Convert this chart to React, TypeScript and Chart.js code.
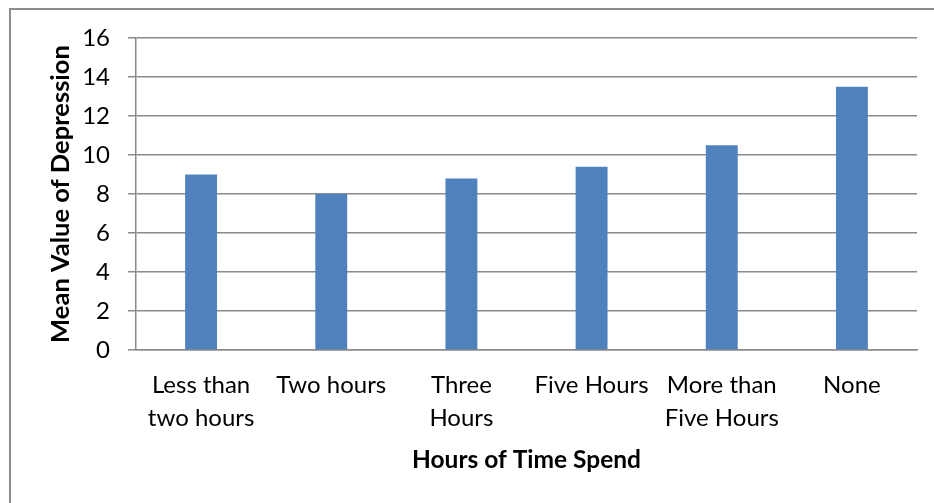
import React, { useEffect, useRef } from "react";
import { Chart, registerables } from "chart.js";

Chart.register(...registerables);

// Categories (multi-line labels are arrays of lines)
const categories: (string | string[])[] = [
  ["Less than", "two hours"],
  "Two hours",
  ["Three", "Hours"],
  "Five Hours",
  ["More than", "Five Hours"],
  "None",
];

// Mean depression score per category
const meanDepression: number[] = [9.0, 8.0, 8.8, 9.4, 10.5, 13.5];

// Y axis range
const yMin = 0;
const yMax = 16;
const yStep = 2;

const xTitle = "Hours of Time Spend";
const yTitle = "Mean Value of Depression";

const FONT = "Lato, 'Open Sans', sans-serif";
const GRID = "#8a8a8a";

// Grey frame along the top and left edges
const framePlugin = {
  id: "frame",
  beforeDraw(chart: Chart) {
    const { ctx, width, height } = chart;
    ctx.save();
    ctx.fillStyle = "#ffffff";
    ctx.fillRect(0, 0, width, height);
    ctx.strokeStyle = "#8c8c8c";
    ctx.lineWidth = 2;
    ctx.beginPath();
    ctx.moveTo(10, height);
    ctx.lineTo(10, 9);
    ctx.lineTo(width, 9);
    ctx.stroke();
    ctx.restore();
  },
};

export default function App() {
  const canvasRef = useRef<HTMLCanvasElement | null>(null);

  useEffect(() => {
    if (!canvasRef.current) return;
    const chart = new Chart(canvasRef.current, {
      type: "bar",
      data: {
        labels: categories,
        datasets: [
          {
            data: meanDepression,
            backgroundColor: "#4f81bd",
            borderWidth: 0,
            categoryPercentage: 1,
            barPercentage: 0.245,
          },
        ],
      },
      options: {
        responsive: false,
        animation: false,
        devicePixelRatio: 1,
        layout: { padding: { left: 0, right: 17, top: 38, bottom: 0 } },
        plugins: {
          legend: { display: false },
          tooltip: { enabled: false },
        },
        scales: {
          x: {
            grid: { display: false, drawTicks: false },
            border: { display: true, color: GRID, width: 1.5 },
            ticks: {
              autoSkip: false,
              maxRotation: 0,
              minRotation: 0,
              padding: 19,
              color: "#000000",
              font: { family: FONT, size: 24, lineHeight: 1.375 },
            },
            title: {
              display: true,
              text: xTitle,
              color: "#000000",
              font: { family: FONT, size: 24.5, weight: "bold", lineHeight: 1.2 },
              padding: { top: 0, bottom: 28 },
            },
            afterFit(scale: any) {
              scale.height = 153;
            },
          },
          y: {
            min: yMin,
            max: yMax,
            ticks: {
              stepSize: yStep,
              padding: 18,
              color: "#000000",
              font: { family: FONT, size: 24 },
            },
            grid: {
              color: GRID,
              lineWidth: 1.5,
              drawTicks: true,
              tickLength: 8,
              tickColor: GRID,
            },
            border: { display: true, color: GRID, width: 1.5 },
            title: {
              display: true,
              text: yTitle,
              color: "#000000",
              font: { family: FONT, size: 25.5, weight: "bold", lineHeight: 1.2 },
              padding: { top: 45, bottom: 0 },
            },
            afterFit(scale: any) {
              scale.width = 136;
            },
          },
        },
      },
      plugins: [framePlugin],
    });
    return () => chart.destroy();
  }, []);

  return (
    <div style={{ position: "absolute", left: 0, top: 0, width: 934, height: 503 }}>
      <canvas ref={canvasRef} width={934} height={503} />
    </div>
  );
}
